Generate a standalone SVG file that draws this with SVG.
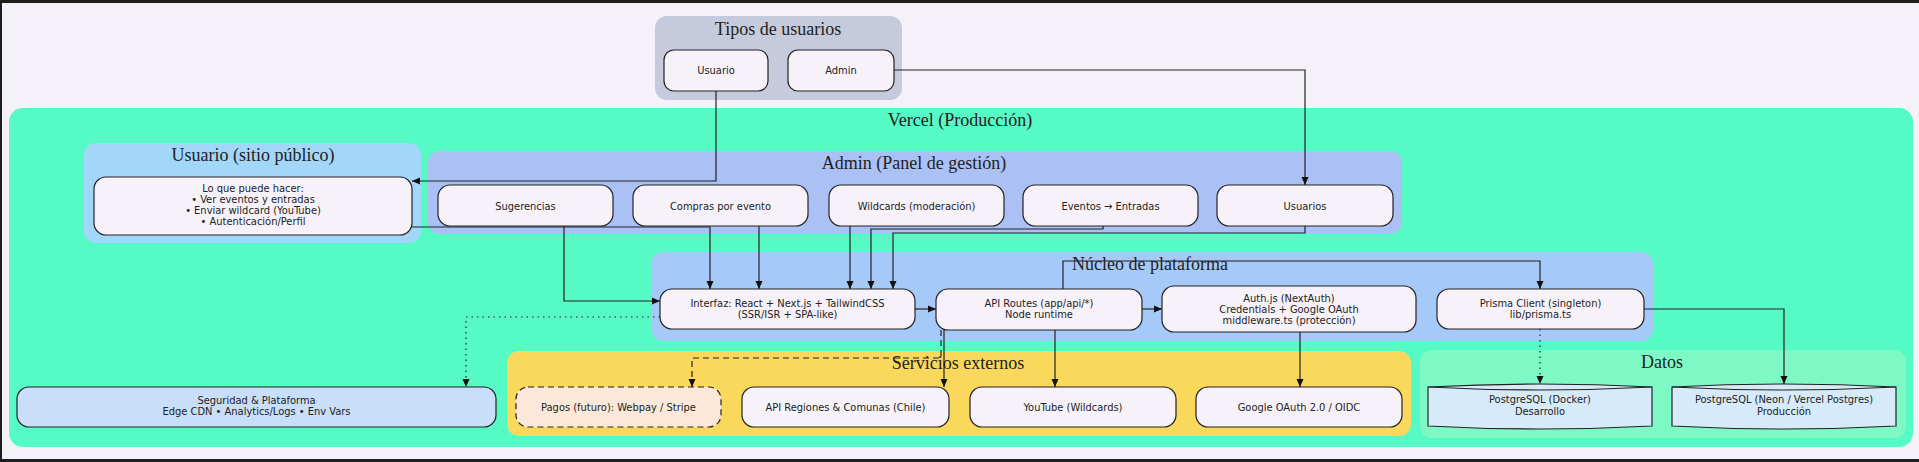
<svg xmlns="http://www.w3.org/2000/svg" width="1919" height="462" viewBox="0 0 1919 462">
<style>
.cl{stroke:none}
.tt{font-family:"Liberation Serif","DejaVu Serif",serif;font-size:18px;fill:#222;text-anchor:middle}
.nd{fill:#f7f2f9;stroke:#222;stroke-width:1.2}
.tx{font-family:"DejaVu Sans",sans-serif;font-stretch:condensed;font-size:11px;fill:#222;text-anchor:middle}
.e{fill:none;stroke:#222;stroke-width:1.2;marker-end:url(#ah)}
.dot{stroke-dasharray:1.5,4}
.dash{stroke-dasharray:6,4}
</style>
<defs>
<marker id="ah" markerUnits="userSpaceOnUse" markerWidth="8" markerHeight="8" refX="8" refY="4" orient="auto">
<path d="M0,0.5 L8,4 L0,7.5 z" fill="#111"/>
</marker>
</defs>
<rect x="0" y="0" width="1919" height="462" fill="#f5f1f8"/>
<rect x="0" y="0" width="1919" height="3" fill="#1e1e1e"/>
<rect x="0" y="459" width="1919" height="3" fill="#1e1e1e"/>
<rect x="0" y="0" width="2" height="462" fill="#1e1e1e"/>

<g id="tipos">
<rect class="cl" x="655" y="16" width="247" height="84" rx="12" fill="#c5cbdc"/>
<text class="tt" x="778" y="35">Tipos de usuarios</text>
</g>
<g id="vercel">
<rect class="cl" x="9" y="108" width="1904" height="339" rx="14" fill="#55fac4"/>
<text class="tt" x="960" y="126">Vercel (Producción)</text>
</g>
<g id="sitio-publico">
<rect class="cl" x="84" y="143" width="337" height="100" rx="12" fill="#a3d7f9"/>
<text class="tt" x="253" y="161">Usuario (sitio público)</text>
</g>
<g id="admin-panel">
<rect class="cl" x="428" y="151" width="974" height="83" rx="12" fill="#abc1f6"/>
<text class="tt" x="914" y="169">Admin (Panel de gestión)</text>
</g>
<g id="nucleo">
<rect class="cl" x="651" y="252" width="1002" height="89" rx="12" fill="#a5c9f9"/>
<text class="tt" x="1150" y="270">Núcleo de plataforma</text>
</g>
<g id="servicios">
<rect class="cl" x="507" y="351" width="904" height="85" rx="12" fill="#fad85c"/>
<text class="tt" x="958" y="369">Servicios externos</text>
</g>
<g id="datos">
<rect class="cl" x="1420" y="350" width="486" height="88" rx="12" fill="#7ef9c6"/>
<text class="tt" x="1662" y="368">Datos</text>
</g>

<g id="connectors">
<path class="e" d="M716,91 V181 H412"/>
<path class="e" d="M894,70 H1305 V185"/>
<path class="e" d="M412,227 H710 V289"/>
<path class="e" d="M564,226 V301 H660"/>
<path class="e" d="M759,226 V289"/>
<path class="e" d="M850,226 V289"/>
<path class="e" d="M1103,226 V229 H871 V289"/>
<path class="e" d="M1305,226 V233 H893 V289"/>
<path class="e" d="M915,309 H936"/>
<path class="e" d="M1142,309 H1162"/>
<path class="e" d="M1063,289 V261 H1540 V289"/>
<path class="e dot" d="M660,317 H466 V387"/>
<path class="e dash" d="M941,330 V358 H692 V387"/>
<path class="e" d="M944,330 V387"/>
<path class="e" d="M1055,330 V387"/>
<path class="e" d="M1300,332 V387"/>
<path class="e dot" d="M1540,329 V384"/>
<path class="e" d="M1644,309 H1784 V384"/>
</g>

<g id="n-usuario">
<rect class="nd" x="664" y="50" width="104" height="41" rx="10"/>
<text class="tx" x="716" y="74">Usuario</text>
</g>
<g id="n-admin">
<rect class="nd" x="788" y="50" width="106" height="41" rx="10"/>
<text class="tx" x="841" y="74">Admin</text>
</g>
<g id="n-loquepuede">
<rect class="nd" x="94" y="177" width="318" height="58" rx="12"/>
<text class="tx" x="253" y="191.5">Lo que puede hacer:</text>
<text class="tx" x="253" y="202.5">• Ver eventos y entradas</text>
<text class="tx" x="253" y="213.5">• Enviar wildcard (YouTube)</text>
<text class="tx" x="253" y="224.5">• Autenticación/Perfil</text>
</g>
<g id="n-sugerencias">
<rect class="nd" x="438" y="185" width="175" height="41" rx="12"/>
<text class="tx" x="525.5" y="209.5">Sugerencias</text>
</g>
<g id="n-compras">
<rect class="nd" x="633" y="185" width="175" height="41" rx="12"/>
<text class="tx" x="720.5" y="209.5">Compras por evento</text>
</g>
<g id="n-wildcards">
<rect class="nd" x="829" y="185" width="175" height="41" rx="12"/>
<text class="tx" x="916.5" y="209.5">Wildcards (moderación)</text>
</g>
<g id="n-eventos">
<rect class="nd" x="1023" y="185" width="175" height="41" rx="12"/>
<text class="tx" x="1110.5" y="209.5">Eventos → Entradas</text>
</g>
<g id="n-usuarios">
<rect class="nd" x="1217" y="185" width="176" height="41" rx="12"/>
<text class="tx" x="1305" y="209.5">Usuarios</text>
</g>
<g id="n-interfaz">
<rect class="nd" x="660" y="289" width="255" height="40" rx="12"/>
<text class="tx" x="787.5" y="306.5">Interfaz: React + Next.js + TailwindCSS</text>
<text class="tx" x="787.5" y="317.5">(SSR/ISR + SPA-like)</text>
</g>
<g id="n-api">
<rect class="nd" x="936" y="289" width="206" height="41" rx="12"/>
<text class="tx" x="1039" y="306.5">API Routes (app/api/*)</text>
<text class="tx" x="1039" y="317.5">Node runtime</text>
</g>
<g id="n-auth">
<rect class="nd" x="1162" y="286" width="254" height="46" rx="12"/>
<text class="tx" x="1289" y="301.5">Auth.js (NextAuth)</text>
<text class="tx" x="1289" y="312.5">Credentials + Google OAuth</text>
<text class="tx" x="1289" y="323.5">middleware.ts (protección)</text>
</g>
<g id="n-prisma">
<rect class="nd" x="1437" y="289" width="207" height="40" rx="12"/>
<text class="tx" x="1540.5" y="306.5">Prisma Client (singleton)</text>
<text class="tx" x="1540.5" y="317.5">lib/prisma.ts</text>
</g>
<g id="n-seguridad">
<rect class="nd" x="17" y="387" width="479" height="40" rx="12" style="fill:#c9def9"/>
<text class="tx" x="256.5" y="403.5">Seguridad &amp; Plataforma</text>
<text class="tx" x="256.5" y="415">Edge CDN • Analytics/Logs • Env Vars</text>
</g>
<g id="n-pagos">
<rect class="nd dash" x="516" y="387" width="205" height="40" rx="12" style="fill:#fbe8d8"/>
<text class="tx" x="618.5" y="410.5">Pagos (futuro): Webpay / Stripe</text>
</g>
<g id="n-regiones">
<rect class="nd" x="742" y="387" width="207" height="40" rx="12"/>
<text class="tx" x="845.5" y="410.5">API Regiones &amp; Comunas (Chile)</text>
</g>
<g id="n-youtube">
<rect class="nd" x="970" y="387" width="206" height="40" rx="12"/>
<text class="tx" x="1073" y="410.5">YouTube (Wildcards)</text>
</g>
<g id="n-google">
<rect class="nd" x="1196" y="387" width="206" height="40" rx="12"/>
<text class="tx" x="1299" y="410.5">Google OAuth 2.0 / OIDC</text>
</g>
<g id="n-pg-docker">
<path class="nd" style="fill:#d6eaf9" d="M1428,387 Q1540,381 1652,387 V426 Q1540,432 1428,426 Z"/>
<path d="M1428,387 Q1540,393 1652,387" fill="none" stroke="#222" stroke-width="1.2"/>
<text class="tx" x="1540" y="402.5">PostgreSQL (Docker)</text>
<text class="tx" x="1540" y="415">Desarrollo</text>
</g>
<g id="n-pg-neon">
<path class="nd" style="fill:#d6eaf9" d="M1672,387 Q1784,381 1896,387 V426 Q1784,432 1672,426 Z"/>
<path d="M1672,387 Q1784,393 1896,387" fill="none" stroke="#222" stroke-width="1.2"/>
<text class="tx" x="1784" y="402.5">PostgreSQL (Neon / Vercel Postgres)</text>
<text class="tx" x="1784" y="415">Producción</text>
</g>
</svg>
